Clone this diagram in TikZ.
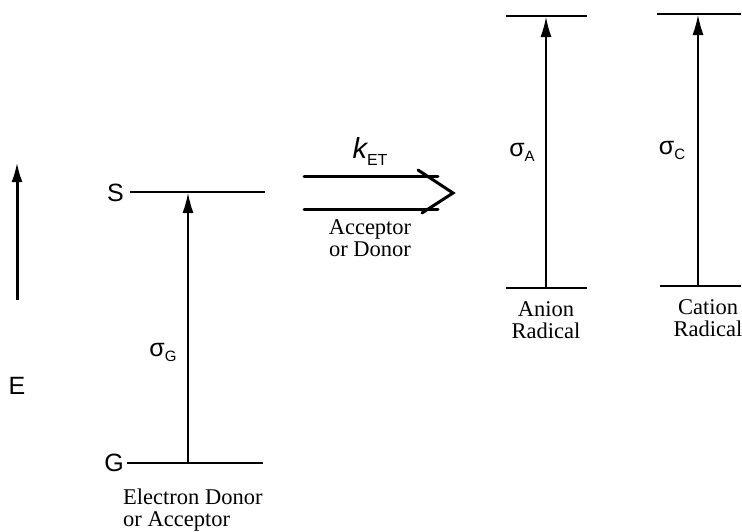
\documentclass[tikz,border=0pt]{standalone}
\usepackage{fontspec}
\setmainfont{Liberation Serif}
\newfontfamily\sansf{Liberation Sans}
\usetikzlibrary{arrows.meta}

\begin{document}
\begin{tikzpicture}[
    x=1pt, y=-1pt,
    livello/.style={line width=1.3pt},
    transizione/.style={line width=1.3pt, -{Latex[length=20pt, width=11pt]}},
    freccia/.style={line width=3pt, line cap=round},
    etic/.style={font=\sansf\fontsize{25}{27}\selectfont, inner sep=0pt},
    testo/.style={font=\fontsize{22.5}{22}\selectfont, align=center, inner sep=0pt},
  ]
  \useasboundingbox (0,0) rectangle (742,531);

  % --- asse dell'energia ----------------------------------------------
  \coordinate (Ebasso) at (17,300);
  \coordinate (Ealto) at (17,162);
  \draw[line width=3pt, -{Latex[length=20pt, width=11pt]}] (Ebasso) -- (Ealto);
  \node[etic] (Elab) at (17,386) {E};

  % --- stato fondamentale e eccitato: S, G ----------------------------
  \node[etic, anchor=east] (Slab) at (124,193) {S};
  \node[etic, anchor=east] (Glab) at (124,463) {G};
  \coordinate (Ssx) at (130,192);
  \coordinate (Sdx) at (265,192);
  \coordinate (Gsx) at (127,463);
  \coordinate (Gdx) at (263,463);
  \draw[livello] (Ssx) -- (Sdx);
  \draw[livello] (Gsx) -- (Gdx);
  \coordinate (Gmid) at (188,463);
  \coordinate (Smid) at (188,193);
  \draw[transizione] (Gmid) -- (Smid);
  \node[etic] (sigG) at (163,352) {σ\raisebox{-5pt}{\fontsize{15}{16}\selectfont G}};
  \node[testo, anchor=north west, align=left] (donatore) at (123,489)
    {Electron Donor\\or Acceptor};

  % --- la doppia freccia k_ET -----------------------------------------
  \coordinate (f1a) at (304,176);
  \coordinate (f1b) at (438,176);
  \coordinate (f2a) at (304,209);
  \coordinate (f2b) at (438,209);
  \coordinate (punta) at (453,193);
  \draw[freccia] (f1a) -- (f1b);
  \draw[freccia] (f2a) -- (f2b);
  \draw[freccia, line join=miter] (418,170) -- (punta) -- (422,213);
  \node[inner sep=0pt] (kET) at (370,151)
    {\sansf\itshape\fontsize{29}{30}\selectfont k\upshape\raisebox{-7pt}{\fontsize{16}{17}\selectfont ET}};
  \node[testo] (accdon) at (370,238) {Acceptor\\or Donor};

  % --- radicale anione ------------------------------------------------
  \coordinate (Aalto1) at (506,16);
  \coordinate (Aalto2) at (587,16);
  \coordinate (Abasso1) at (506,288);
  \coordinate (Abasso2) at (587,288);
  \draw[livello] (Aalto1) -- (Aalto2);
  \draw[livello] (Abasso1) -- (Abasso2);
  \draw[transizione] (546,288) -- (546,17);
  \node[etic] (sigA) at (522,152) {σ\raisebox{-5pt}{\fontsize{15}{16}\selectfont A}};
  \node[testo] (anione) at (546,320) {Anion\\Radical};

  % --- radicale catione -----------------------------------------------
  \coordinate (Calto1) at (657,14);
  \coordinate (Calto2) at (741,14);
  \coordinate (Cbasso1) at (660,286);
  \coordinate (Cbasso2) at (741,286);
  \draw[livello] (Calto1) -- (Calto2);
  \draw[livello] (Cbasso1) -- (Cbasso2);
  \draw[transizione] (698,286) -- (698,15);
  \node[etic] (sigC) at (672,150) {σ\raisebox{-5pt}{\fontsize{15}{16}\selectfont C}};
  \node[testo] (catione) at (708,318) {Cation\\Radical};

\end{tikzpicture}
\end{document}
